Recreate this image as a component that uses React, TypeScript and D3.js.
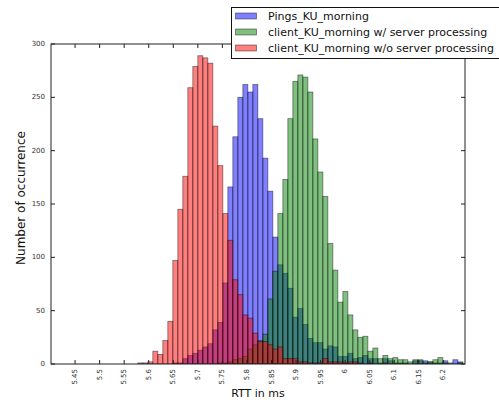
import React from "react";
import * as d3 from "d3";

// Histogram bin definition (RTT in ms)
const binStart = 5.5778;
const binWidth = 0.010183;

// Counts per bin, same bins for every series
const pingsMorning = [
  0, 0, 0, 0, 0, 0, 0, 1, 1, 5, 8, 10, 13, 16, 19, 32, 39, 76, 166, 213, 250, 262, 255, 262,
  230, 193, 162, 119, 93, 85, 71, 44, 52, 37, 24, 20, 20, 14, 17, 16, 7, 7, 10, 5, 6, 8, 5, 5,
  1, 5, 3, 1, 1, 1, 0, 3, 3, 3, 2, 1, 1, 3, 0, 4, 2,
];
const clientWithServer = [
  0, 0, 0, 0, 0, 0, 0, 0, 0, 0, 0, 0, 0, 0, 0, 0, 1, 1, 2, 4, 5, 7, 14, 18, 22, 28, 61, 87,
  141, 173, 230, 265, 271, 269, 255, 211, 180, 157, 113, 88, 58, 68, 46, 32, 25, 26, 12, 15, 5,
  8, 5, 6, 4, 4, 2, 4, 4, 1, 2, 4, 6, 1, 1, 0, 1,
];
const clientWithoutServer = [
  1, 1, 2, 12, 9, 22, 40, 97, 145, 176, 259, 279, 289, 287, 282, 223, 186, 141, 116, 79, 65,
  46, 43, 29, 21, 21, 18, 14, 16, 5, 5, 5, 2, 2, 1, 1, 1, 5, 2, 2, 2, 1, 2, 2, 1, 0, 1, 0, 0,
  1, 0, 0, 0, 0, 0, 0, 0, 0, 0, 0, 0, 0, 0, 0, 0,
];

const seriesNames = [
  "Pings_KU_morning",
  "client_KU_morning w/ server processing",
  "client_KU_morning w/o server processing",
];
const seriesColors = ["#0000ff", "#008000", "#ff0000"];

const xTicks = [5.45, 5.5, 5.55, 5.6, 5.65, 5.7, 5.75, 5.8, 5.85, 5.9, 5.95, 6, 6.05, 6.1, 6.15, 6.2];
const xTickLabels = ["5.45", "5.5", "5.55", "5.6", "5.65", "5.7", "5.75", "5.8", "5.85", "5.9", "5.95", "6", "6.05", "6.1", "6.15", "6.2"];
const yTicks = [0, 50, 100, 150, 200, 250, 300];

const W = 499;
const H = 400;
const M = { left: 51, right: 465, top: 44, bottom: 364 };
const FONT = "DejaVu Sans, sans-serif";

export default function App() {
  const x = d3.scaleLinear().domain([5.401, 6.244]).range([M.left, M.right]);
  const y = d3.scaleLinear().domain([0, 300]).range([M.bottom, M.top]);
  const allSeries = [pingsMorning, clientWithServer, clientWithoutServer];

  return (
    <svg
      width={W}
      height={H}
      style={{ position: "absolute", left: 0, top: 0, background: "#fff" }}
      fontFamily={FONT}
    >
      <rect x={0} y={0} width={W} height={H} fill="#fff" />
      <defs>
        <clipPath id="plotClip">
          <rect x={M.left} y={M.top} width={M.right - M.left} height={M.bottom - M.top} />
        </clipPath>
      </defs>
      <g clipPath="url(#plotClip)">
        {allSeries.map((vals, si) => (
          <g key={si}>
            {vals.map((v, i) => {
              if (v <= 0) return null;
              const x0 = x(binStart + i * binWidth);
              const x1 = x(binStart + (i + 1) * binWidth);
              return (
                <rect
                  key={i}
                  x={x0}
                  y={y(v)}
                  width={x1 - x0}
                  height={y(0) - y(v)}
                  fill={seriesColors[si]}
                  fillOpacity={0.5}
                  stroke="#000"
                  strokeOpacity={0.5}
                  strokeWidth={0.8}
                />
              );
            })}
          </g>
        ))}
      </g>

      {/* axes frame */}
      <rect
        x={M.left}
        y={M.top}
        width={M.right - M.left}
        height={M.bottom - M.top}
        fill="none"
        stroke="#222"
        strokeWidth={1}
      />

      {/* y ticks */}
      {yTicks.map((t) => (
        <g key={"y" + t}>
          <line x1={M.left} x2={M.left + 4} y1={y(t)} y2={y(t)} stroke="#222" />
          <line x1={M.right} x2={M.right - 4} y1={y(t)} y2={y(t)} stroke="#222" />
          <text
            x={M.left - 6}
            y={y(t)}
            fontSize={7}
            textAnchor="end"
            dominantBaseline="central"
            fill="#333"
          >
            {t}
          </text>
        </g>
      ))}

      {/* x ticks */}
      {xTicks.map((t, i) => (
        <g key={"x" + t}>
          <line x1={x(t)} x2={x(t)} y1={M.bottom} y2={M.bottom - 4} stroke="#222" />
          <line x1={x(t)} x2={x(t)} y1={M.top} y2={M.top + 4} stroke="#222" />
          <text
            transform={`translate(${x(t)},${M.bottom + 5}) rotate(-90)`}
            fontSize={7}
            textAnchor="end"
            dominantBaseline="central"
            fill="#333"
          >
            {xTickLabels[i]}
          </text>
        </g>
      ))}

      {/* axis labels */}
      <text x={(M.left + M.right) / 2} y={397} fontSize={11} textAnchor="middle" fill="#111">
        RTT in ms
      </text>
      <text
        transform={`translate(25,198) rotate(-90)`}
        fontSize={12}
        textAnchor="middle"
        fill="#111"
      >
        Number of occurrence
      </text>

      {/* legend */}
      <g>
        <rect x={231.5} y={7.5} width={275} height={51} fill="#fff" stroke="#111" strokeWidth={1} />
        {seriesNames.map((name, i) => (
          <g key={name}>
            <rect
              x={235.5}
              y={13 + i * 16}
              width={21}
              height={6}
              fill={seriesColors[i]}
              fillOpacity={0.5}
              stroke="#000"
              strokeOpacity={0.5}
              strokeWidth={0.8}
            />
            <text x={268} y={16.5 + i * 16} fontSize={11} dominantBaseline="central" fill="#111">
              {name}
            </text>
          </g>
        ))}
      </g>
    </svg>
  );
}
